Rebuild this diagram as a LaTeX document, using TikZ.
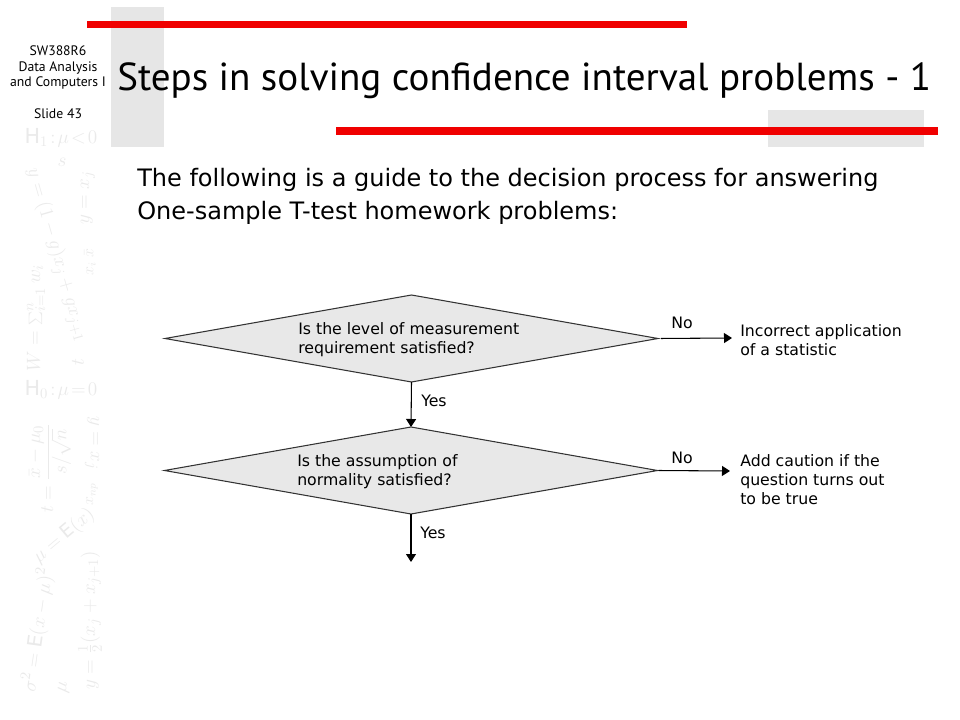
\documentclass[tikz,border=0pt]{standalone}
\usepackage{fontspec}
\setmainfont{DejaVu Sans}
\newfontfamily\titlefont{PT Sans}
\newfontfamily\subfont{DejaVu Sans}
\usetikzlibrary{shapes.geometric,arrows.meta}
\definecolor{barred}{RGB}{240,0,0}
\definecolor{panelgray}{RGB}{230,230,230}
\definecolor{diafill}{RGB}{232,232,232}
\definecolor{mathgray}{RGB}{234,234,234}
\tikzset{
  px/.style={x=0.75pt,y=-0.75pt},
  redbar/.style={draw=none,fill=barred},
  graypanel/.style={draw=none,fill=panelgray},
  decision/.style={diamond,draw=black!80,fill=diafill,line width=0.8pt,inner sep=0pt,outer sep=0pt,
     minimum width=369.75pt,minimum height=65.25pt},
  qtext/.style={anchor=base west,align=left,inner sep=0pt,font=\fontsize{11.8}{14}\selectfont},
  lbl/.style={anchor=base west,inner sep=0pt,font=\fontsize{11.8}{14}\selectfont},
  flow/.style={line width=0.8pt,-{Triangle[length=6pt,width=7.5pt]}},
  sidetext/.style={anchor=base,inner sep=0pt,font=\titlefont\fontsize{10.3}{11.6}\selectfont,align=center},
  bgmath/.style={text=mathgray,inner sep=0pt,font=\fontsize{15}{15}\selectfont}
}
\begin{document}
\begin{tikzpicture}[px]
\useasboundingbox[fill=white] (0,0) rectangle (960,720);
% decorative background math
\node[bgmath,font=\fontsize{15.5}{16}\selectfont] (m1) at (61,138) {$\mathrm{H}_1\!:\!\mu\!<\!0$};
\node[bgmath,font=\fontsize{15.5}{16}\selectfont] (m2) at (61,390) {$\mathrm{H}_0\!:\!\mu\!=\!0$};
\node[bgmath,rotate=-74] (m3) at (57,255) {$y=(1-g)x_j+gx_{j+1}$};
\node[bgmath] (m3b) at (62,162) {$s$};
\node[bgmath,rotate=90] (m4) at (36,318) {$W=\sum_{i=1}^{n}w_i$};
\node[bgmath,rotate=90] (m5) at (88,198) {$y=x_j$};
\node[bgmath,rotate=90,font=\fontsize{12}{12}\selectfont] (m5b) at (90,262) {$x_i\;\bar{x}$};
\node[bgmath,rotate=90] (m6) at (50,468) {$t=\displaystyle\frac{\bar{x}-\mu_0}{s/\sqrt{n}}$};
\node[bgmath,rotate=-90] (m7) at (92,443) {$y=x_j$};
\node[bgmath,rotate=40,font=\fontsize{14}{14}\selectfont] (m8) at (64,536) {$\mu=\mathrm{E}(x)$};
\node[bgmath,rotate=90,font=\fontsize{12}{12}\selectfont] (m8b) at (92,494) {$x_{np}$};
\node[bgmath,rotate=82] (m9) at (38,630) {$\sigma^2=\mathrm{E}(x-\mu)^2$};
\node[bgmath,rotate=90] (m10) at (90,620) {$y=\frac{1}{2}(x_j+x_{j+1})$};
\node[bgmath,rotate=80] (m11) at (64,688) {$\mu$};
\node[bgmath,rotate=90] (m12) at (78,362) {$t$};
% header decorations
\fill[graypanel] (111,7) rectangle (164,147);
\fill[graypanel] (768,110) rectangle (924,147);
\fill[redbar] (87,21) rectangle (687,28);
\fill[redbar] (336,127) rectangle (938,135);
% side text
\node[sidetext] (s1) at (58,56) {SW388R6};
\node[sidetext] (s2) at (58,72) {Data Analysis};
\node[sidetext] (s3) at (58,87) {and Computers I};
\node[sidetext] (s4) at (58,119) {Slide 43};
% title
\node[anchor=base west,inner sep=0pt,font=\titlefont\fontsize{29.3}{30}\selectfont] (title) at (117,91) {Steps in solving confidence interval problems - 1};
% subtitle
\node[anchor=base west,inner sep=0pt,align=left,font=\subfont\fontsize{18}{24.75}\selectfont] (sub) at (137,220)
  {The following is a guide to the decision process for answering\\One-sample T-test homework problems:};
% flowchart
\node[decision] (d1) at (411.5,338.5) {};
\node[decision] (d2) at (411,470.5) {};
\node[qtext] (q1) at (298,353) {Is the level of measurement\\requirement satisfied?};
\node[qtext] (q2) at (297,485) {Is the assumption of\\normality satisfied?};
\coordinate (end2) at (411,562);
\coordinate (no1end) at (732,338);
\coordinate (no2end) at (730,471);
\draw[flow] (d1.south) -- (d2.north);
\draw[flow] (d2.south) -- (end2);
\draw[flow,shorten <=2.25pt] (d1.east) -- (no1end);
\draw[flow,shorten <=0.75pt] (d2.east) -- (no2end);
\node[lbl] (y1) at (421,406) {Yes};
\node[lbl] (y2) at (420,538) {Yes};
\node[lbl] (n1) at (671,329) {No};
\node[lbl] (n2) at (671,463) {No};
\node[qtext] (r1) at (740,355) {Incorrect application\\of a statistic};
\node[qtext] (r2) at (740,504) {Add caution if the\\question turns out\\to be true};
\end{tikzpicture}
\end{document}
